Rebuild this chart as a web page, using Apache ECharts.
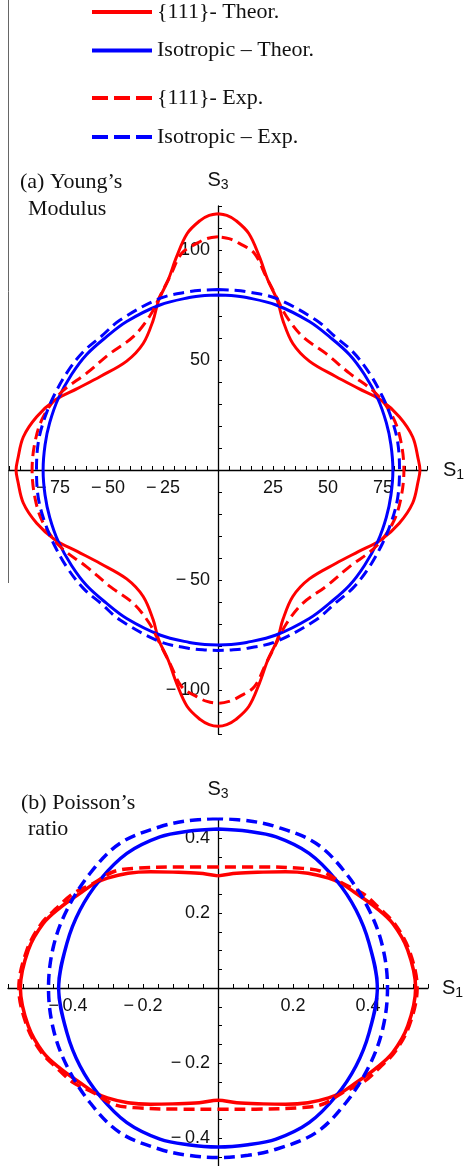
<!DOCTYPE html>
<html>
<head>
<meta charset="utf-8">
<script src="https://cdn.jsdelivr.net/npm/echarts@6/dist/echarts.min.js"></script>
<style>
  html, body { margin: 0; padding: 0; background: #fff; }
  #chart { width: 465px; height: 1166px; }
</style>
</head>
<body>
<div id="chart"></div>
<script>
// series names (legend)
const seriesNames = ['{111}- Theor.', 'Isotropic \u2013 Theor.', '{111}- Exp.', 'Isotropic \u2013 Exp.'];

// (a) Young's modulus, upper-left quadrant, read from top (S1=0) to left (S3=0)
const ymRedTheoX = [0, -4, -8, -14, -18.8, -22.6, -27, -29.5, -34, -41.5, -53.5, -64, -74, -82.4, -88.5, -91, -91.8];
const ymRedTheoY = [116.5, 115.75, 113.5, 107.5, 97, 86.5, 77, 68, 57.5, 49.5, 42.5, 37, 31.8, 24.2, 15, 5, 0];
const ymRedExpX = [0, -5, -9.7, -16.5, -21.8, -26.4, -31, -38.5, -49, -59.7, -71.8, -79.4, -83, -84.5];
const ymRedExpY = [106, 105.2, 103, 98.5, 88, 79, 70, 60.6, 53, 44, 34.8, 24.2, 13.6, 0];
const ymIsoTheoX = [0, -6, -13, -26.4, -41.5, -51, -59.7, -66.5, -72.6, -76.5, -78.6, -79.5];
const ymIsoTheoY = [79.5, 79.3, 78.4, 75, 67.5, 60.3, 52.5, 43.5, 32.5, 21.5, 11.5, 0];
const ymIsoExpX = [0, -6, -13.5, -26.4, -44.5, -53, -61.2, -68.5, -74.8, -79, -81.7, -82.5];
const ymIsoExpY = [82, 81.8, 81, 78, 68.2, 60.8, 53.8, 44.5, 33.3, 23, 12.5, 0];

// (b) Poisson's ratio, upper-left quadrant
const prRedTheoX = [0, -0.05, -0.12, -0.18, -0.24, -0.295, -0.33, -0.368, -0.42, -0.466, -0.506, -0.527];
const prRedTheoY = [0.299, 0.306, 0.309, 0.310, 0.306, 0.293, 0.278, 0.2525, 0.215, 0.172, 0.101, 0];
const prRedExpX = [0, -0.1, -0.226, -0.279, -0.332, -0.386, -0.43, -0.472, -0.51, -0.531];
const prRedExpY = [0.323, 0.323, 0.319, 0.31, 0.279, 0.252, 0.213, 0.17, 0.1, 0];
const prIsoTheoX = [0, -0.08, -0.155, -0.243, -0.315, -0.368, -0.403, -0.425];
const prIsoTheoY = [0.424, 0.418, 0.403, 0.359, 0.288, 0.208, 0.119, 0];
const prIsoExpX = [0, -0.08, -0.155, -0.261, -0.341, -0.403, -0.439, -0.452];
const prIsoExpY = [0.452, 0.446, 0.43, 0.386, 0.306, 0.208, 0.11, 0];

const RED = '#ff0000';
const BLUE = '#0000ff';

// quadrant -> closed curve, using the symmetry of the plots
function loop(xs, ys) {
  const n = xs.length;
  const pts = [];
  for (let i = 0; i < n; i++) pts.push([xs[i], ys[i]]);
  for (let i = n - 2; i >= 0; i--) pts.push([xs[i], -ys[i]]);
  for (let i = 1; i < n; i++) pts.push([-xs[i], -ys[i]]);
  for (let i = n - 2; i >= 0; i--) pts.push([-xs[i], ys[i]]);
  return pts;
}

const minus = (s) => '\u2212\u2009' + s;

const ymXLabel = v => (v !== 0 && v % 25 === 0) ? (v < 0 ? minus(-v) : String(v)) : '';
const ymYLabel = v => (v !== 0 && v % 50 === 0) ? (v < 0 ? minus(-v) : String(v)) : '';
const prLabel = v => {
  const k = Math.round(v * 100);
  if (k === 0 || k % 20 !== 0) return '';
  const s = String(Math.abs(k) / 100);
  return k < 0 ? minus(s) : s;
};

const axisRich = {
  s: { fontFamily: 'Liberation Sans', fontSize: 20, lineHeight: 24, color: '#111' },
  b: { fontFamily: 'Liberation Sans', fontSize: 14, lineHeight: 14, verticalAlign: 'bottom', color: '#111' }
};

// grid boxes; the axes are pushed (offset) onto the zero lines
const gridA = { left: 9, top: 206, width: 418, height: 528 };
const gridB = { left: 8, top: 819.25, width: 420, height: 356.25 };
const zeroA = { x: 218, y: 470 };
const zeroB = { x: 218, y: 988 };

function makeAxis(opts) {
  return Object.assign({
    type: 'value',
    splitLine: { show: false },
    axisLine: { onZero: false, lineStyle: { color: '#000', width: 1.3 } },
    axisTick: { inside: true, length: 4, lineStyle: { color: '#000', width: 1 } },
    nameLocation: 'end',
    nameTextStyle: { rich: axisRich }
  }, opts);
}

const labelStyle = (margin, formatter) => ({
  fontFamily: 'Liberation Sans', fontSize: 18, color: '#111', margin: margin, formatter: formatter,
  showMinLabel: true, showMaxLabel: true, hideOverlap: false
});

const lineSeries = (name, data, color, dashed, width, idx) => ({
  name: name,
  type: 'line',
  xAxisIndex: idx,
  yAxisIndex: idx,
  data: data,
  smooth: 0.35,
  symbol: 'none',
  color: color,
  lineStyle: { color: color, width: width, type: dashed ? [11, 6] : 'solid' },
  z: 3
});

const chart = echarts.init(document.getElementById('chart'));

const legendText = { fontFamily: 'Liberation Serif', fontSize: 22, lineHeight: 22, color: '#111' };
const titleTok = (lh, padLeft) => ({
  fontFamily: 'Liberation Serif', fontSize: 22, fontWeight: 'normal', lineHeight: lh, color: '#111', padding: [0, 0, 0, padLeft]
});

chart.setOption({
  animation: false,
  title: [
    {
      text: '{a|(a) Young\u2019s}\n{b|Modulus}',
      left: 20, top: 169, padding: 0,
      textStyle: { fontWeight: 'normal', rich: { a: titleTok(27, 0), b: titleTok(27, 8) } }
    },
    {
      text: '{a|(b) Poisson\u2019s}\n{b|ratio}',
      left: 21, top: 790, padding: 0,
      textStyle: { fontWeight: 'normal', rich: { a: titleTok(26, 0), b: titleTok(26, 7) } }
    }
  ],
  legend: [
    {
      orient: 'vertical', left: 90, top: 1, padding: 0,
      itemWidth: 60, itemHeight: 14, itemGap: 16.5,
      selectedMode: false,
      itemStyle: { opacity: 0 },
      textStyle: legendText,
      data: [
        { name: seriesNames[0], lineStyle: { width: 4 } },
        { name: seriesNames[1], lineStyle: { width: 4 } }
      ]
    },
    {
      orient: 'vertical', left: 90, top: 87, padding: 0,
      itemWidth: 60, itemHeight: 14, itemGap: 17,
      selectedMode: false,
      itemStyle: { opacity: 0 },
      textStyle: legendText,
      data: [
        { name: seriesNames[2], lineStyle: { width: 4, type: [16, 6] } },
        { name: seriesNames[3], lineStyle: { width: 4, type: [16, 6] } }
      ]
    }
  ],
  grid: [
    Object.assign({ outerBoundsMode: 'none', containLabel: false }, gridA),
    Object.assign({ outerBoundsMode: 'none', containLabel: false }, gridB)
  ],
  xAxis: [
    makeAxis({
      gridIndex: 0, min: -95, max: 95, interval: 5,
      position: 'bottom', offset: zeroA.y - (gridA.top + gridA.height),
      name: '{s|S}{b|1}', nameGap: 16,
      axisLabel: labelStyle(9, ymXLabel)
    }),
    makeAxis({
      gridIndex: 1, min: -0.56, max: 0.56, interval: 0.04,
      position: 'bottom', offset: zeroB.y - (gridB.top + gridB.height),
      name: '{s|S}{b|1}', nameGap: 14,
      axisLabel: labelStyle(9, prLabel)
    })
  ],
  yAxis: [
    makeAxis({
      gridIndex: 0, min: -120, max: 120, interval: 10,
      position: 'left', offset: gridA.left - zeroA.x,
      name: '{s|S}{b|3}', nameGap: 14,
      axisLabel: labelStyle(8, ymYLabel)
    }),
    makeAxis({
      gridIndex: 1, min: -0.5, max: 0.45, interval: 0.05,
      position: 'left', offset: gridB.left - zeroB.x,
      name: '{s|S}{b|3}', nameGap: 18,
      axisLabel: labelStyle(8, prLabel)
    })
  ],
  graphic: [
    { type: 'line', shape: { x1: 8.5, y1: 0, x2: 8.5, y2: 583 }, style: { stroke: '#666', lineWidth: 1 }, silent: true }
  ],
  series: [
    lineSeries(seriesNames[0], loop(ymRedTheoX, ymRedTheoY), RED, false, 3, 0),
    lineSeries(seriesNames[1], loop(ymIsoTheoX, ymIsoTheoY), BLUE, false, 3, 0),
    lineSeries(seriesNames[2], loop(ymRedExpX, ymRedExpY), RED, true, 3, 0),
    lineSeries(seriesNames[3], loop(ymIsoExpX, ymIsoExpY), BLUE, true, 3, 0),
    lineSeries(seriesNames[0], loop(prRedTheoX, prRedTheoY), RED, false, 3.5, 1),
    lineSeries(seriesNames[1], loop(prIsoTheoX, prIsoTheoY), BLUE, false, 3.5, 1),
    lineSeries(seriesNames[2], loop(prRedExpX, prRedExpY), RED, true, 3.5, 1),
    lineSeries(seriesNames[3], loop(prIsoExpX, prIsoExpY), BLUE, true, 3.5, 1)
  ]
});
</script>
</body>
</html>
